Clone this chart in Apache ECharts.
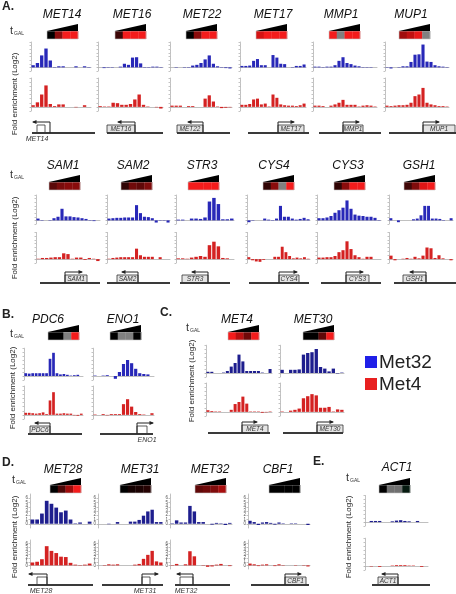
<!DOCTYPE html>
<html><head><meta charset="utf-8">
<script src="https://cdn.jsdelivr.net/npm/echarts/dist/echarts.min.js"></script>
<style>html,body{margin:0;padding:0;background:#fff}#c{width:456px;height:594px}</style>
</head><body><div id="c"></div>
<script>
// ---------- DATA: fold enrichment (Log2), Met32 (blue) and Met4 (red) ----------
const MET14_Met32 = [0.6,1.2,3.3,5.2,1.9,0.1,0.3,0.3,0,0,0.3,0,0.3,0.1];
const MET14_Met4  = [0.4,1.1,3.0,5.2,0.7,0.2,0.6,0.6,0,0,-0.1,0,0.4,0];
const MET16_Met32 = [0,-0.2,0.1,0.1,0,0.2,1.0,0.7,2.7,2.8,1.1,0.1,0.1,0.2,0.2,0.1];
const MET16_Met4  = [0.2,0.1,0.1,1.0,0.9,0.5,0.5,0.7,1.8,3.0,0.5,0.1,0,-0.1,-0.4];
const MET22_Met32 = [0,0.1,0,-0.1,0.1,0.5,0.7,1.2,2.2,3.3,1.0,0.3,0.1,-0.2,-0.3];
const MET22_Met4  = [0.3,0.3,0.3,0,0.2,0.2,0,0,2.0,2.8,1.3,0.1,-0.3,-0.2,-0.1];
const MET17_Met32 = [0.4,0.4,0.5,1.8,2.3,0.6,0.6,0,3.4,2.7,1.0,0.9,0,0.1,0.4,0.4,0.8];
const MET17_Met4  = [0.5,0.5,0.7,1.8,2.0,0.6,0.8,0.1,3.0,2.2,0.6,0.4,0.3,0.3,0.2,0.4,0.8];
const MMP1_Met32  = [0.2,0.2,0.1,0.2,0.2,0.6,1.8,2.8,1.2,0.9,0.5,0.3,0.1,-0.1,0.1,0];
const MMP1_Met4   = [0.3,0.3,0.2,0,0.3,0.6,1.0,1.7,0.5,0.5,0.5,0.1,0.3,0.4,0.3,0.1];
const MUP1_Met32  = [0.1,-0.3,0,0.1,0.3,0.3,1.5,3.5,3.6,6.3,1.6,1.5,0.6,0.3,0.2,0.1];
const MUP1_Met4   = [0.3,0.2,0.3,0.4,0.4,0.5,1.0,2.6,3.0,4.6,1.0,0.6,0.4,0.2,0.2,0.1];
const SAM1_Met32  = [0.5,0.1,0,0.1,0.6,1.0,3.2,1.1,1.1,0.9,0.8,0.6,0.4,0.1,-0.2,0];
const SAM1_Met4   = [0.1,0.3,0.3,0.4,0.5,0.5,1.5,1.3,0.1,0.4,0.4,-0.2,0.3,0.1,-0.5];
const SAM2_Met32  = [0.5,0.6,0.7,0.7,0.8,0.8,0.8,4.2,2.0,1.0,0.9,0.6,-0.6,0.1,-0.1,-0.6];
const SAM2_Met4   = [0.1,0.3,0.4,0.5,0.5,0.5,0.5,2.7,1.0,0.6,0.6,0.6,0,0.5,0,0];
const STR3_Met32  = [0.2,0.2,0,0.5,0.5,0.4,0.8,5.2,6.2,4.5,0.3,0.3,0.5];
const STR3_Met4   = [0.2,0.2,0.1,0.4,0.6,0.8,0.6,3.6,4.5,3.3,0.3,0.2,0];
const CYS4_Met32  = [-0.5,-0.1,0,0,0.5,0.2,0.1,0.5,4.0,1.0,1.0,0.5,0.2,0.4,0.7,0.3];
const CYS4_Met4   = [0.5,-0.3,-0.6,-0.7,-0.2,0,0,0.6,0.6,3.2,1.8,0.8,0.2,0.4,0.2,0.5,0.1];
const CYS3_Met32  = [0.6,0.6,0.8,1.2,2.1,2.8,3.5,5.5,3.2,1.6,1.3,1.2,1.0,1.0,0.7,0.1];
const CYS3_Met4   = [0.4,0.4,0.5,0.5,0.8,1.8,2.3,4.6,2.6,1.0,0.5,0.1,0.6,0.6,0,0];
const GSH1_Met32  = [0.6,0,-0.5,0,0,0,0.3,0.5,1.4,4.0,4.0,0.5,0.5,0.4,0.1,0,0.6];
const GSH1_Met4   = [0.9,-0.3,0,0.1,0.3,0.1,0.6,0.2,0.9,3.0,2.8,0.3,1.0,0.2,0,-0.3];
const PDC6_Met32  = [0.7,0.6,0.7,0.7,0.7,0.7,0.7,4.3,5.8,0.7,0.4,0.5,0.3,0.1,0.2,0.3,0];
const PDC6_Met4   = [0.5,0.5,0.4,0.3,0.4,0.6,0.2,3.5,5.5,0.3,0.3,0.4,0.3,0.3,-0.1,-0.2,0.3];
const ENO1_Met32  = [0.1,0,0.1,0.2,0,-0.7,1.0,3.0,4.0,3.2,1.8,0.7,0.5,0.4,0];
const ENO1_Met4   = [0.1,0,0.2,-0.1,0.2,0.2,0.2,2.6,3.8,2.0,0.7,0.2,0.1,0,0.4];
const MET4_Met32  = [0.3,0.3,0,0,0.1,0.5,1.6,2.5,4.6,2.9,0.5,0.5,0.5,0.5,0.1,0,1.0];
const MET4_Met4   = [0.4,0.2,0.1,0.1,0,0,0.5,1.9,2.4,3.7,2.0,0.1,0.1,0.1,-0.2,-0.1,0.1];
const MET30_Met32 = [0.8,0,0.8,0.8,0.9,4.6,5.0,5.2,6.0,1.5,1.1,0.4,1.1,-0.1,0.1];
const MET30_Met4  = [0.1,0,0.3,0.5,0.8,3.3,3.8,4.3,4.0,1.0,1.0,1.2,0.1,0.6,0.5];
const MET28_Met32 = [1.0,1.0,2.4,5.4,4.7,3.8,2.7,3.1,1.0,0.1,0.3,0,0.5];
const MET28_Met4  = [0.8,1.0,1.7,5.3,4.0,3.4,2.4,2.3,0.7,0.2,0.1,0.2,0.5];
const MET31_Met32 = [0,0,-0.1,0,0.4,0,0,0.5,0.5,0.9,1.9,2.9,3.3,0.4,0.4];
const MET31_Met4  = [0,0.1,0.3,0.2,0.3,0,0,0,0.2,0.4,1.8,2.9,4.0,1.1,0.8];
const MET32_Met32 = [0.1,0.8,0.3,0.3,4.2,2.9,0.4,0.4,0,-0.2,0.2,0.1,-0.3,0.2];
const MET32_Met4  = [0.1,0.4,0,0.3,3.9,2.5,0,0.1,-0.4,-0.3,0.2,0.4,0,-0.2];
const CBF1_Met32  = [0.7,0.4,-0.3,0.3,0.4,0.2,-0.2,0.3,0.1,0,0.1,0.1,0,0,-0.3];
const CBF1_Met4   = [0.5,0.3,-0.2,0.2,0.3,0,-0.2,0.3,0.1,0,0,0.1,0,-0.1,-0.3];
const ACT1_Met32  = [0,0.3,0.3,0.3,0,0,0.2,0.4,0.5,0.3,0.2,0,0.3,0,0];
const ACT1_Met4   = [0,-0.1,0,-0.2,0,0,0.1,0.2,0.2,0.2,0.1,0.1,0,-0.2,0];

const yTicks = [-1,0,1,2,3,4,5,6,7];
const seriesNames = ['Met32','Met4'];

// ---------- LAYOUT ----------
const rows = {
  A1:{bt:42,bh:29,rt:78,rh:33,ty:15,sy:31,ly:133,lab:false,dark:false},
  A2:{bt:195,bh:29,rt:232,rh:31,ty:166,sy:182,ly:283,lab:false,dark:false},
  B:{bt:348,bh:32,rt:386,rh:33,ty:320,sy:332,ly:434,lab:false,dark:false},
  C:{bt:345,bh:32,rt:383,rh:33,ty:320,sy:332,ly:433,lab:false,dark:true},
  D:{bt:494,bh:34,rt:540,rh:29,ty:470,sy:485,ly:585,lab:true,dark:true},
  E:{bt:495,bh:31,rt:538,rh:32,ty:468,sy:485,ly:585,lab:false,dark:true}
};
const R='#f41c1c', G='#808080', K='#000000';
const genes = [
 {n:'MET14',b:MET14_Met32,r:MET14_Met4,row:'A1',cx:62,sx:47,left:31,w:60,st:[K,'#8a0c0c',R,R],line:[32,95],box:[37,45],dir:'L',ax:50,ae:33,lbl:false,ext:[37,139]},
 {n:'MET16',b:MET16_Met32,r:MET16_Met4,row:'A1',cx:132,sx:115,left:98,w:65,st:['#3c0606',R,R,R],line:[107,163],box:[107,135],dir:'L',ax:135,ae:118,lbl:true},
 {n:'MET22',b:MET22_Met32,r:MET22_Met4,row:'A1',cx:202,sx:186,left:170,w:62,st:[K,'#8a0c0c',R,R],line:[177,230],box:[177,203],dir:'L',ax:203,ae:188,lbl:true},
 {n:'MET17',b:MET17_Met32,r:MET17_Met4,row:'A1',cx:273,sx:256,left:240,w:66,st:['#d41414',R,R,R],line:[248,309],box:[278,304],dir:'R',ax:278,ae:294,lbl:true},
 {n:'MMP1',b:MMP1_Met32,r:MMP1_Met4,row:'A1',cx:341,sx:329,left:313,w:64,st:[R,G,R,R],line:[319,381],box:[343,363],dir:'R',ax:343,ae:359,lbl:true},
 {n:'MUP1',b:MUP1_Met32,r:MUP1_Met4,row:'A1',cx:411,sx:399,left:385,w:64,st:['#a00c0c','#c01010','#e81818',G],line:[389,456],box:[423,455],dir:'R',ax:423,ae:439,lbl:true},
 {n:'SAM1',b:SAM1_Met32,r:SAM1_Met4,row:'A2',cx:63,sx:49,left:36,w:64,st:['#5a0808','#7a0c0c','#880c0c','#880c0c'],line:[40,100],box:[65,87],dir:'R',ax:65,ae:82,lbl:true},
 {n:'SAM2',b:SAM2_Met32,r:SAM2_Met4,row:'A2',cx:133,sx:121,left:107,w:63,st:['#300404','#700a0a','#600808','#800c0c'],line:[107,170],box:[117,138],dir:'L',ax:138,ae:122,lbl:true},
 {n:'STR3',b:STR3_Met32,r:STR3_Met4,row:'A2',cx:202,sx:188,left:176,w:58,st:[R,R,R,R],line:[180,230],box:[182,208],dir:'L',ax:208,ae:192,lbl:true},
 {n:'CYS4',b:CYS4_Met32,r:CYS4_Met4,row:'A2',cx:274,sx:263,left:247,w:63,st:['#300404','#8a0c0c',G,R],line:[249,309],box:[279,299],dir:'R',ax:279,ae:297,lbl:true},
 {n:'CYS3',b:CYS3_Met32,r:CYS3_Met4,row:'A2',cx:348,sx:334,left:317,w:64,st:['#300404','#8a0c0c',R,R],line:[321,381],box:[346,369],dir:'R',ax:346,ae:363,lbl:true},
 {n:'GSH1',b:GSH1_Met32,r:GSH1_Met4,row:'A2',cx:419,sx:404,left:389,w:64,st:['#400606','#800c0c','#e01616',R],line:[394,456],box:[403,426],dir:'L',ax:426,ae:410,lbl:true},
 {n:'PDC6',b:PDC6_Met32,r:PDC6_Met4,row:'B',cx:48,sx:48,left:24,w:59,st:[K,K,G,R],line:[28,82],box:[30,50],dir:'L',ax:50,ae:35,lbl:true},
 {n:'ENO1',b:ENO1_Met32,r:ENO1_Met4,row:'B',cx:123,sx:110,left:93,w:61,st:[K,G,G,K],line:[100,153],box:[137,147],dir:'R',ax:137,ae:153,lbl:false,ext:[147,440]},
 {n:'MET4',b:MET4_Met32,r:MET4_Met4,row:'C',cx:237,sx:228,left:206,w:66,st:[R,'#b81010','#700808',R],line:[208,270],box:[242,268],dir:'R',ax:242,ae:257,lbl:true},
 {n:'MET30',b:MET30_Met32,r:MET30_Met4,row:'C',cx:313,sx:303,left:280,w:64,st:[K,K,'#600808',R],line:[283,343],box:[317,343],dir:'R',ax:317,ae:333,lbl:true},
 {n:'MET28',b:MET28_Met32,r:MET28_Met4,row:'D',cx:63,sx:50,left:30,w:62,st:[K,'#4a0606','#a00c0c',R],line:[28,93],box:[37,47],dir:'L',ax:47,ae:29,lbl:false,ext:[41,591]},
 {n:'MET31',b:MET31_Met32,r:MET31_Met4,row:'D',cx:140,sx:120,left:98,w:65,st:[K,'#140000','#1c0202','#260303'],line:[102,163],box:[142,150],dir:'R',ax:142,ae:158,lbl:false,ext:[145,591]},
 {n:'MET32',b:MET32_Met32,r:MET32_Met4,row:'D',cx:210,sx:195,left:170,w:62,st:['#600808','#700a0a','#800c0c','#a80e0e'],line:[175,230],box:[180,193],dir:'L',ax:193,ae:177,lbl:false,ext:[186,591]},
 {n:'CBF1',b:CBF1_Met32,r:CBF1_Met4,row:'D',cx:278,sx:269,left:248,w:62,st:[K,K,K,K],line:[251,309],box:[285,306],dir:'R',ax:285,ae:301,lbl:true},
 {n:'ACT1',b:ACT1_Met32,r:ACT1_Met4,row:'E',cx:397,sx:379,left:365,w:63,st:[K,'#707070','#707070','#061a10'],line:[372,430],box:[378,398],dir:'L',ax:398,ae:382,lbl:true}
];

const FONT = '"Liberation Sans", Arial, sans-serif';
const grid=[], xAxis=[], yAxis=[], series=[], graphic=[];

function txt(text, x, y, opt) {
  opt = opt || {};
  graphic.push({type:'text', x:x, y:y, rotation:opt.rot||0, silent:true, z:10,
    style:{text:text, x:0, y:0, fill:opt.fill||'#222', fontSize:opt.fs||10, fontFamily:FONT,
      fontStyle:opt.it?'italic':'normal', fontWeight:opt.bold?'bold':'normal',
      align:opt.align||'center', verticalAlign:opt.va||'middle',
      textAlign:opt.align||'center', textVerticalAlign:opt.va||'middle'}});
}
function rect(x,y,w,h,fill,stroke,lw) {
  graphic.push({type:'rect', silent:true, z:5, shape:{x:x,y:y,width:w,height:h},
    style:{fill:fill, stroke:stroke||null, lineWidth:lw||0}});
}
function poly(points, fill) {
  graphic.push({type:'polygon', silent:true, z:6, shape:{points:points}, style:{fill:fill}});
}
function pline(points, stroke, lw) {
  graphic.push({type:'polyline', silent:true, z:6, shape:{points:points}, style:{stroke:stroke, lineWidth:lw, fill:null}});
}

genes.forEach(g => {
  const r = rows[g.row];
  const blue = r.dark ? '#1e1e8e' : '#2828b8';
  const red = '#d42222';
  [[g.b, r.bt, r.bh, blue, seriesNames[0]], [g.r, r.rt, r.rh, red, seriesNames[1]]].forEach(([data, top, h, col, nm]) => {
    const idx = grid.length;
    grid.push({left:g.left, top:top, width:g.w, height:h});
    xAxis.push({gridIndex:idx, type:'category', data:data.map((_, i) => String(i + 1)),
      axisLine:{onZero:true, lineStyle:{color:'#b0b0b0', width:0.8}}, axisTick:{show:false}, axisLabel:{show:false}});
    yAxis.push({gridIndex:idx, type:'value', min:yTicks[0], max:yTicks[yTicks.length-1], interval:1,
      axisLine:{show:true, lineStyle:{color:'#9a9a9a', width:0.6, type:'dotted'}},
      axisTick:{show:true, length:1.5, lineStyle:{color:'#9a9a9a', width:0.6}},
      axisLabel:{show:r.lab, fontSize:4.5, margin:2, color:'#555', fontFamily:FONT},
      splitLine:{show:false}});
    series.push({type:'bar', name:nm, xAxisIndex:idx, yAxisIndex:idx, data:data, barWidth:'78%',
      itemStyle:{color:col}, silent:true});
  });
  // gene title
  txt(g.n, g.cx, r.ty, {fs:12, it:true, fill:'#111'});
  // tGAL wedge + strip
  const sw = 31, sh = 8, sy = r.sy;
  poly([[g.sx, sy], [g.sx + sw, sy], [g.sx + sw, sy - 7]], '#000');
  g.st.forEach((c, i) => rect(g.sx + i * sw / 4, sy, sw / 4 + 0.3, sh, c));
  rect(g.sx, sy, sw, sh, null, '#c8c8c8', 0.6);
  // gene diagram
  const ly = r.ly;
  pline([[g.line[0], ly], [g.line[1], ly]], '#3a3a3a', 1.8);
  rect(g.box[0], ly - 8, g.box[1] - g.box[0], 8, g.lbl ? '#e4e4e4' : '#ffffff', '#333', 0.8);
  if (g.lbl) txt(g.n, (g.box[0] + g.box[1]) / 2, ly - 4, {fs:6.5, it:true, fill:'#333'});
  const ay = ly - 11;
  pline([[g.ax, ly], [g.ax, ay], [g.ae, ay]], '#222', 1);
  if (g.dir === 'L') poly([[g.ae - 1, ay], [g.ae + 3.5, ay - 2], [g.ae + 3.5, ay + 2]], '#222');
  else poly([[g.ae + 1, ay], [g.ae - 3.5, ay - 2], [g.ae - 3.5, ay + 2]], '#222');
  if (g.ext) txt(g.n, g.ext[0], g.ext[1], {fs:7, it:true, fill:'#333'});
});

// panel letters
txt('A.', 2, 7, {fs:12, bold:true, align:'left'});
txt('B.', 2, 315, {fs:12, bold:true, align:'left'});
txt('C.', 160, 313, {fs:12, bold:true, align:'left'});
txt('D.', 2, 463, {fs:12, bold:true, align:'left'});
txt('E.', 313, 462, {fs:12, bold:true, align:'left'});

// tGAL labels
[[10,31],[10,175],[10,334],[186,328],[12,480],[346,478]].forEach(([x,y]) => {
  txt('t', x, y, {fs:11, align:'left', fill:'#333'});
  txt('GAL', x + 4, y + 3, {fs:5, align:'left', fill:'#333'});
});

// y-axis titles
[[15,94],[15,238],[13,388],[192,381],[15,537],[349,537]].forEach(([x,y]) => {
  txt('Fold enrichment (Log2)', x, y, {fs:8, rot:Math.PI/2, fill:'#222'});
});

// legend
rect(365, 356, 12, 12, '#2020e8');
rect(365, 378, 12, 12, '#e82020');
txt(seriesNames[0], 379, 363, {fs:19, align:'left', fill:'#222'});
txt(seriesNames[1], 379, 385, {fs:19, align:'left', fill:'#222'});

const chart = echarts.init(document.getElementById('c'), null, {renderer:'canvas'});
chart.setOption({animation:false, backgroundColor:'#fff', grid, xAxis, yAxis, series, graphic});
</script>
</body></html>
